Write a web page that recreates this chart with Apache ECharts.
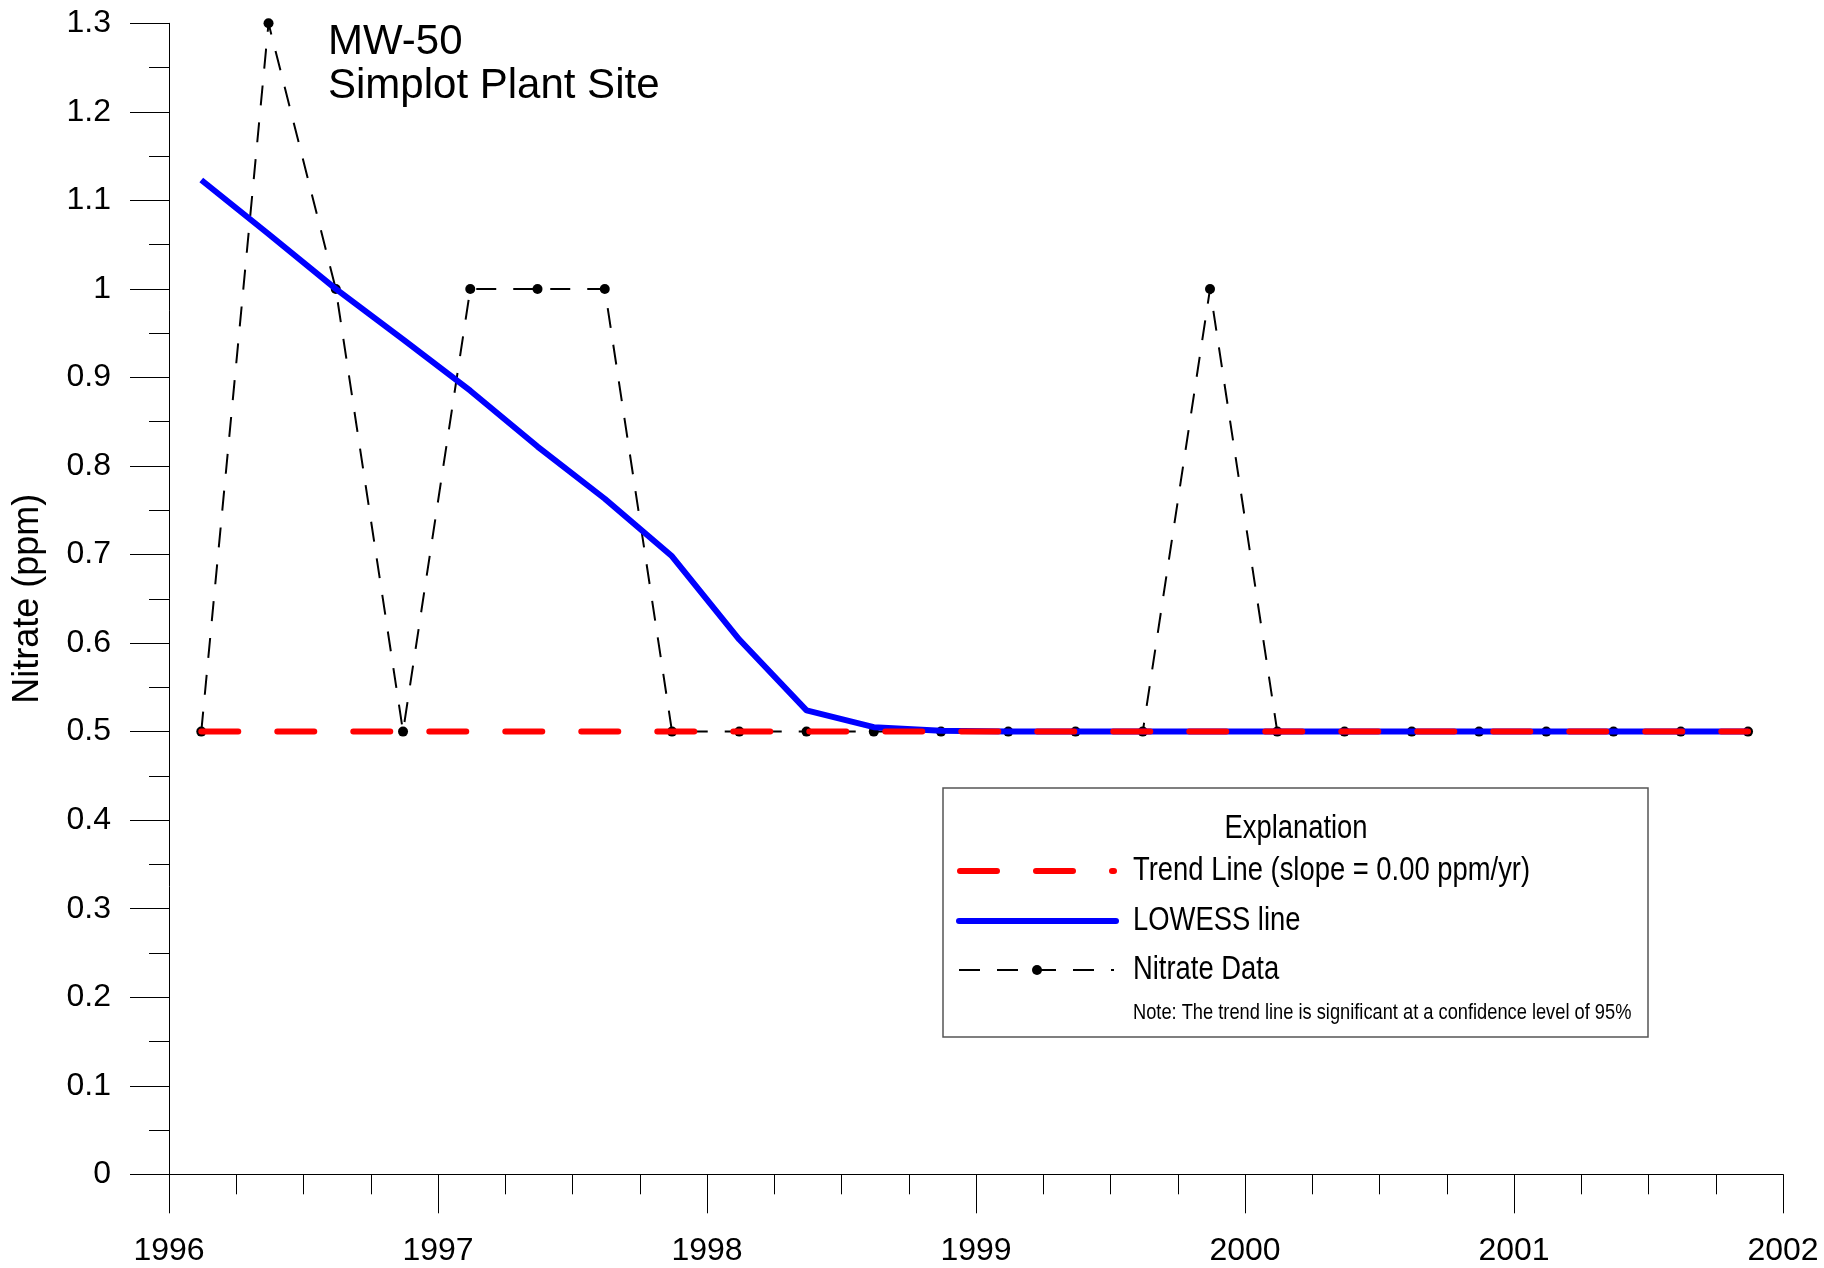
<!DOCTYPE html>
<html><head><meta charset="utf-8">
<script src="https://cdn.jsdelivr.net/npm/echarts@6/dist/echarts.min.js"></script>
<style>html,body{margin:0;padding:0;background:#fff}#c{width:1824px;height:1268px}</style>
</head><body><div id="c"></div>
<script>
// ---- data ----
const sampleDates = [1996.12, 1996.37, 1996.62, 1996.87, 1997.12, 1997.37, 1997.62, 1997.87,
                     1998.12, 1998.37, 1998.62, 1998.87, 1999.12, 1999.37, 1999.62, 1999.87,
                     2000.12, 2000.37, 2000.62, 2000.87, 2001.12, 2001.37, 2001.62, 2001.87];
const nitrateValues = [0.5, 1.3, 1.0, 0.5, 1.0, 1.0, 1.0, 0.5,
                       0.5, 0.5, 0.5, 0.5, 0.5, 0.5, 0.5, 1.0,
                       0.5, 0.5, 0.5, 0.5, 0.5, 0.5, 0.5, 0.5];
const lowessValues = [1.123, 1.062, 1.0, 0.943, 0.885, 0.822, 0.763, 0.698,
                      0.604, 0.524, 0.505, 0.501, 0.5, 0.5, 0.5, 0.5,
                      0.5, 0.5, 0.5, 0.5, 0.5, 0.5, 0.5, 0.5];
const trendDates = [1996.12, 2001.87];
const trendValues = [0.5, 0.5];
const titleLines = ['MW-50', 'Simplot Plant Site'];
const yAxisTitle = 'Nitrate (ppm)';
const legendTitle = 'Explanation';
const legendLabels = ['Trend Line (slope = 0.00 ppm/yr)', 'LOWESS line', 'Nitrate Data'];
const legendNote = 'Note: The trend line is significant at a confidence level of 95%';

// ---- build ----
const pairs = (xs, ys) => xs.map((x, i) => [x, ys[i]]);
const MAIN_FONT = "'Liberation Sans', Arial, sans-serif";
const NARROW = 0.83;

const chart = echarts.init(document.getElementById('c'), null, {renderer: 'canvas'});
const L = {x: 943, y: 788, w: 705, h: 249};
const legendText = (txt, x, y, size, align) => ({
  type: 'text', x: x, y: y, scaleX: NARROW, z: 11,
  style: {text: txt, font: size + 'px ' + MAIN_FONT, fill: '#000',
          align: align || 'left', verticalAlign: 'middle'}
});
chart.setOption({
  animation: false,
  backgroundColor: '#fff',
  grid: {left: 169, right: 41, top: 23.3, bottom: 93.7, containLabel: false},
  xAxis: {
    type: 'value', min: 1996, max: 2002, interval: 1,
    axisLine: {show: true, lineStyle: {color: '#000', width: 1}},
    axisTick: {show: true, length: 39, lineStyle: {color: '#000', width: 1}},
    minorTick: {show: true, splitNumber: 4, length: 20, lineStyle: {color: '#000', width: 1}},
    splitLine: {show: false},
    axisLabel: {color: '#000', fontSize: 32, fontFamily: MAIN_FONT, margin: 61,
                formatter: v => String(v)}
  },
  yAxis: {
    type: 'value', min: 0, max: 1.3, interval: 0.1,
    name: yAxisTitle, nameLocation: 'middle', nameRotate: 90, nameGap: 123,
    nameTextStyle: {color: '#000', fontSize: 36, fontFamily: MAIN_FONT},
    axisLine: {show: true, lineStyle: {color: '#000', width: 1}},
    axisTick: {show: true, length: 39, lineStyle: {color: '#000', width: 1}},
    minorTick: {show: true, splitNumber: 2, length: 20, lineStyle: {color: '#000', width: 1}},
    splitLine: {show: false},
    axisLabel: {color: '#000', fontSize: 32, fontFamily: MAIN_FONT, margin: 58,
                formatter: v => String(+v.toFixed(1))}
  },
  series: [
    {
      name: legendLabels[2], type: 'line', data: pairs(sampleDates, nitrateValues), z: 1,
      symbol: 'circle', symbolSize: 10, showSymbol: true,
      itemStyle: {color: '#000'},
      lineStyle: {color: '#000', width: 2, type: [20, 17]}
    },
    {
      name: legendLabels[1], type: 'line', data: pairs(sampleDates, lowessValues), z: 2,
      symbol: 'none', lineStyle: {color: '#0000ff', width: 6}
    },
    {
      name: legendLabels[0], type: 'line', data: pairs(trendDates, trendValues), z: 3,
      symbol: 'none', lineStyle: {color: '#ff0000', width: 6, type: [37, 39], cap: 'round'}
    }
  ],
  graphic: [
    {type: 'text', left: 328, top: 20, z: 10,
     style: {text: titleLines.join('\n'), font: '42px ' + MAIN_FONT, fill: '#000', lineHeight: 44}},
    {type: 'rect', shape: {x: L.x, y: L.y, width: L.w, height: L.h}, z: 10,
     style: {fill: '#fff', stroke: '#555', lineWidth: 1.5}},
    legendText(legendTitle, 1296, 829, 33, 'center'),
    {type: 'line', z: 11, shape: {x1: 960, y1: 871, x2: 1114, y2: 871},
     style: {stroke: '#ff0000', lineWidth: 6, lineDash: [37, 39], lineCap: 'round'}},
    legendText(legendLabels[0], 1133, 871, 33),
    {type: 'line', z: 11, shape: {x1: 959, y1: 921, x2: 1116, y2: 921},
     style: {stroke: '#0000ff', lineWidth: 6, lineCap: 'round'}},
    legendText(legendLabels[1], 1133, 921, 33),
    {type: 'line', z: 11, shape: {x1: 959, y1: 970, x2: 1114, y2: 970},
     style: {stroke: '#000', lineWidth: 2, lineDash: [21, 17]}},
    {type: 'circle', z: 12, shape: {cx: 1037, cy: 970, r: 5}, style: {fill: '#000'}},
    legendText(legendLabels[2], 1133, 970, 33),
    legendText(legendNote, 1133, 1013, 22)
  ]
});
</script>
</body></html>
